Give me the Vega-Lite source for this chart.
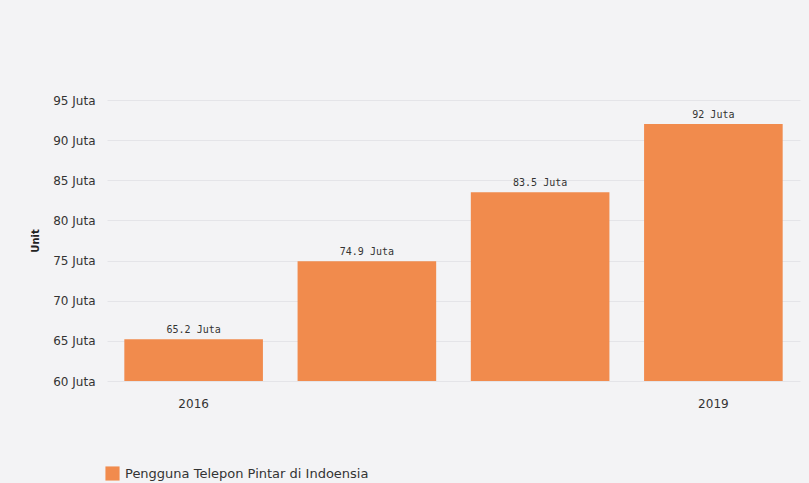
{
  "$schema": "https://vega.github.io/schema/vega-lite/v6.json",
  "autosize": "none",
  "width": 693,
  "height": 281,
  "padding": {"left": 107, "top": 100, "right": 9, "bottom": 102},
  "background": "#f3f3f5",
  "config": {
    "view": {"stroke": null},
    "font": "DejaVu Sans"
  },
  "data": {
    "values": [
      {"year": "2016", "value": 65.2, "series": "Pengguna Telepon Pintar di Indoensia"},
      {"year": "2017", "value": 74.9, "series": "Pengguna Telepon Pintar di Indoensia"},
      {"year": "2018", "value": 83.5, "series": "Pengguna Telepon Pintar di Indoensia"},
      {"year": "2019", "value": 92, "series": "Pengguna Telepon Pintar di Indoensia"}
    ]
  },
  "transform": [{"calculate": "datum.value + ' Juta'", "as": "label"}],
  "encoding": {
    "x": {
      "field": "year",
      "type": "ordinal",
      "scale": {"paddingInner": 0.2, "paddingOuter": 0.1},
      "axis": {
        "title": null,
        "labelAngle": 0,
        "domain": false,
        "ticks": false,
        "labelPadding": 17,
        "labelFontSize": 12,
        "labelColor": "#333333",
        "labelExpr": "datum.value == '2016' || datum.value == '2019' ? datum.value : ''"
      }
    }
  },
  "layer": [
    {
      "mark": {"type": "bar", "color": "#f18b4d", "clip": true},
      "encoding": {
        "y": {
          "field": "value",
          "type": "quantitative",
          "scale": {"domain": [60, 95], "zero": false, "nice": false},
          "axis": {
            "title": "Unit",
            "titleFontSize": 10,
            "titleFontWeight": "bold",
            "titleColor": "#222222",
            "titlePadding": 12,
            "values": [60, 65, 70, 75, 80, 85, 90, 95],
            "labelExpr": "datum.value + ' Juta'",
            "labelFontSize": 12,
            "labelColor": "#333333",
            "labelPadding": 12,
            "domain": false,
            "ticks": false,
            "grid": true,
            "gridColor": "#e4e4e8",
            "gridWidth": 1
          }
        },
        "color": {
          "field": "series",
          "type": "nominal",
          "scale": {"range": ["#f18b4d"]},
          "legend": {
            "title": null,
            "orient": "none",
            "legendX": -2,
            "legendY": 366,
            "symbolType": "square",
            "symbolSize": 200,
            "symbolStrokeWidth": 0,
            "labelFontSize": 13,
            "labelLimit": 0,
            "labelColor": "#333333",
            "labelOffset": 5
          }
        }
      }
    },
    {
      "mark": {"type": "text", "dy": -9, "font": "DejaVu Sans Mono", "fontSize": 10, "color": "#333333"},
      "encoding": {
        "y": {"field": "value", "type": "quantitative"},
        "text": {"field": "label"}
      }
    }
  ]
}
